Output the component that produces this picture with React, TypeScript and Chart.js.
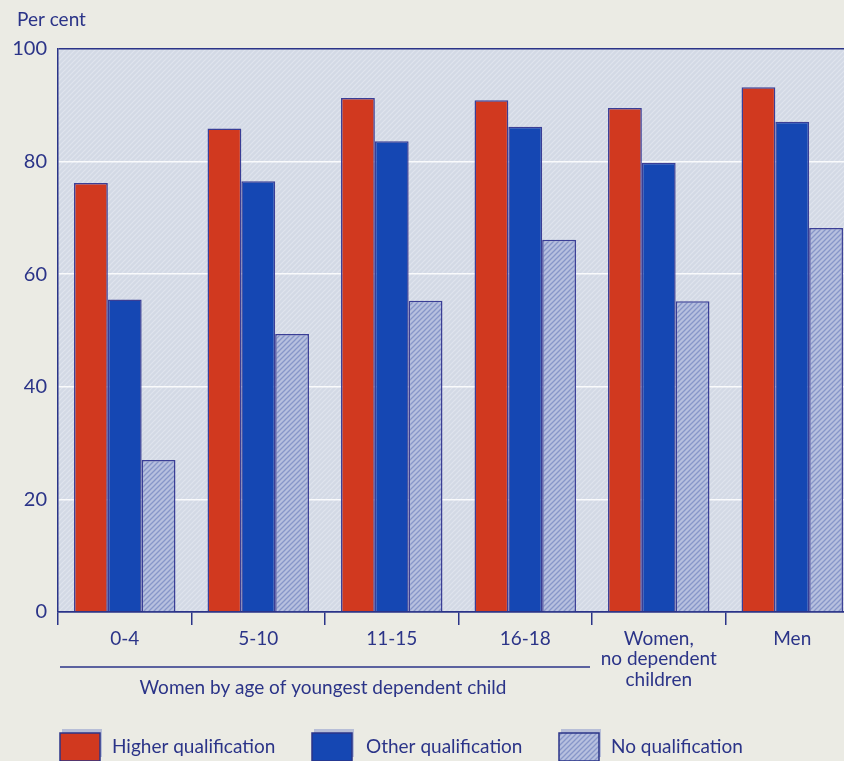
import React, { useEffect, useRef } from "react";
import { Chart, registerables } from "chart.js";

Chart.register(...registerables);

const categories: (string | string[])[] = ["0-4", "5-10", "11-15", "16-18", ["Women,", "no dependent", "children"], "Men"];
const seriesNames = ["Higher qualification", "Other qualification", "No qualification"];
const higherQualification = [76.2, 85.9, 91.3, 90.9, 89.5, 93.2];
const otherQualification = [55.5, 76.5, 83.6, 86.2, 79.8, 87.1];
const noQualification = [27.0, 49.4, 55.3, 66.1, 55.2, 68.2];
const yTicks = [0, 20, 40, 60, 80, 100];
const yTitle = "Per cent";
const groupLabel = "Women by age of youngest dependent child";

const NAVY = "#2b3488";
const FONT = "Lato, 'Open Sans', sans-serif";

function stripes(bg: string, fg: string, size: number, lw: number) {
  const c = document.createElement("canvas");
  c.width = size;
  c.height = size;
  const x = c.getContext("2d")!;
  x.fillStyle = bg;
  x.fillRect(0, 0, size, size);
  x.strokeStyle = fg;
  x.lineWidth = lw;
  x.beginPath();
  x.moveTo(-1, size + 1);
  x.lineTo(size + 1, -1);
  x.moveTo(-size / 2 - 1, size / 2 + 1);
  x.lineTo(size / 2 + 1, -size / 2 - 1);
  x.moveTo(size / 2 - 1, size * 1.5 + 1);
  x.lineTo(size * 1.5 + 1, size / 2 - 1);
  x.stroke();
  return x.createPattern(c, "repeat")!;
}

export default function App() {
  const ref = useRef<HTMLCanvasElement>(null);
  useEffect(() => {
    const plotBg = stripes("#d3d9e5", "#dfe4ed", 5, 1.2);
    const noQualFill = stripes("#b7c0df", "#8796c9", 5, 1.3);
    const colors: any[] = ["#d1391f", "#1547b3", noQualFill];

    const decor = {
      id: "decor",
      beforeDraw(chart: any) {
        const { ctx, chartArea: a } = chart;
        ctx.save();
        ctx.fillStyle = "#ebebe4";
        ctx.fillRect(0, 0, chart.width, chart.height);
        ctx.fillStyle = plotBg;
        ctx.fillRect(a.left, a.top, a.right - a.left, a.bottom - a.top);
        ctx.restore();
      },
      afterDraw(chart: any) {
        const { ctx } = chart;
        ctx.save();
        ctx.fillStyle = NAVY;
        ctx.textBaseline = "middle";
        ctx.font = `19px ${FONT}`;
        ctx.textAlign = "left";
        ctx.fillText(yTitle, 17, 20);
        // group underline and label
        ctx.strokeStyle = NAVY;
        ctx.lineWidth = 1.5;
        ctx.beginPath();
        ctx.moveTo(60, 667);
        ctx.lineTo(590, 667);
        ctx.stroke();
        ctx.font = `19px ${FONT}`;
        ctx.textAlign = "center";
        ctx.fillText(groupLabel, 323, 688);
        // legend
        const boxX = [60, 312, 559];
        const textX = [112, 366, 611];
        chart.data.datasets.forEach((ds: any, i: number) => {
          ctx.fillStyle = "rgba(120,135,200,0.45)";
          ctx.fillRect(boxX[i] + 2, 729, 40, 28);
          ctx.fillStyle = ds.backgroundColor;
          ctx.fillRect(boxX[i], 733, 40, 28);
          ctx.strokeStyle = NAVY;
          ctx.lineWidth = 1.5;
          ctx.strokeRect(boxX[i], 733, 40, 28);
          ctx.fillStyle = NAVY;
          ctx.font = `19px ${FONT}`;
          ctx.textAlign = "left";
          ctx.fillText(ds.label, textX[i], 747);
        });
        ctx.restore();
      },
    };

    const chart = new Chart(ref.current!, {
      type: "bar",
      data: {
        labels: categories as any,
        datasets: [higherQualification, otherQualification, noQualification].map((d, i) => ({
          label: seriesNames[i],
          data: d,
          backgroundColor: colors[i],
          borderColor: "#3a3e96",
          borderWidth: 1.5,
          barPercentage: 1,
          categoryPercentage: 0.76,
        })),
      },
      options: {
        responsive: false,
        animation: false,
        events: [],
        layout: { padding: { top: 49, right: 21, left: 0, bottom: 0 } },
        plugins: { legend: { display: false }, tooltip: { enabled: false }, title: { display: false } },
        scales: {
          x: {
            offset: true,
            grid: {
              display: true,
              offset: true,
              drawOnChartArea: false,
              drawTicks: true,
              tickLength: 13,
              color: NAVY,
              lineWidth: 1.5,
            },
            border: { display: true, color: NAVY, width: 1.5 },
            ticks: {
              color: NAVY,
              padding: 3,
              maxRotation: 0,
              autoSkip: false,
              font: { family: FONT, size: 19, lineHeight: 1.1 },
            },
            afterFit(s: any) {
              s.height = 761 - 612;
            },
          },
          y: {
            min: 0,
            max: 100,
            afterBuildTicks(s: any) {
              s.ticks = yTicks.map((v) => ({ value: v }));
            },
            grid: {
              drawTicks: false,
              color: (c: any) => (c.tick && (c.tick.value === 0 || c.tick.value === 100) ? NAVY : "rgba(255,255,255,0.85)"),
              lineWidth: 1.5,
            },
            border: { display: true, color: NAVY, width: 1.5 },
            ticks: {
              color: NAVY,
              padding: 11,
              font: { family: FONT, size: 20 },
            },
            afterFit(s: any) {
              s.width = 58;
            },
          },
        },
      },
      plugins: [decor],
    });
    return () => chart.destroy();
  }, []);

  return (
    <div style={{ position: "fixed", left: 0, top: 0, width: 844, height: 761, overflow: "hidden", background: "#ebebe4" }}>
      <canvas ref={ref} width={880} height={761} style={{ display: "block", width: 880, height: 761 }} />
    </div>
  );
}
